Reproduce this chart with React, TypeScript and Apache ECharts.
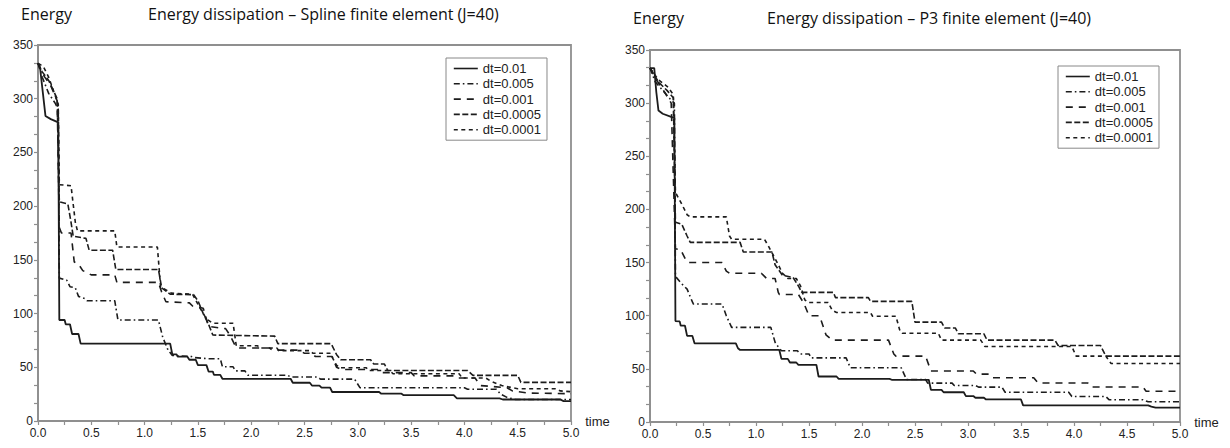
import React, { useEffect, useRef } from "react";
import * as echarts from "echarts";

// ---------- data ----------
const seriesNames = ["dt=0.01", "dt=0.005", "dt=0.001", "dt=0.0005", "dt=0.0001"];
const xTicks = [0, 0.5, 1, 1.5, 2, 2.5, 3, 3.5, 4, 4.5, 5];
const yTicks = [0, 50, 100, 150, 200, 250, 300, 350];
const leftTitle = "Energy dissipation \u2013 Spline finite element (J=40)";
const rightTitle = "Energy dissipation \u2013 P3 finite element (J=40)";
const yName = "Energy";
const xName = "time";

// Spline finite element
const splineDt01 = [[0,333],[0.02,328],[0.07,284],[0.12,281],[0.19,278],[0.2,94],[0.25,94],[0.26,90],[0.3,90],[0.32,81],[0.38,81],[0.4,72],[1.24,72],[1.26,62],[1.3,62],[1.31,60],[1.4,60],[1.42,57],[1.48,57],[1.5,52],[1.58,52],[1.6,46],[1.64,46],[1.65,43],[1.71,43],[1.73,39.3],[2.37,39.3],[2.39,35.6],[2.55,35.6],[2.57,33],[2.64,33],[2.66,31],[2.74,31],[2.76,27],[3.2,27],[3.22,25.4],[3.41,25.4],[3.43,24],[3.9,24],[3.93,21],[4.33,21],[4.36,20],[4.9,20],[4.93,18.5],[5,18.5]];
const splineDt005 = [[0,333],[0.04,320],[0.1,305],[0.16,296],[0.19,290],[0.2,133],[0.27,131],[0.3,125],[0.35,124],[0.38,116],[0.44,114],[0.46,112],[0.72,112],[0.75,94],[1.13,94],[1.17,78],[1.22,66],[1.26,61],[1.44,60],[1.47,59],[1.6,58],[1.71,58],[1.73,50.5],[1.83,50.5],[1.85,46.7],[1.94,46.7],[1.97,42.6],[2.34,42.6],[2.37,41],[2.62,41],[2.65,39],[2.97,39],[3.02,31],[4.0,31],[4.03,29.5],[4.3,29.5],[4.34,25],[4.4,22],[4.48,20],[5,20]];
const splineDt001 = [[0,333],[0.05,322],[0.12,312],[0.18,298],[0.2,180],[0.22,175],[0.31,175],[0.34,148],[0.38,146],[0.42,140],[0.5,136],[0.72,136],[0.74,129],[1.13,129],[1.16,120],[1.2,111],[1.42,110],[1.45,107],[1.55,105],[1.6,88],[1.76,86],[1.8,80],[1.85,70],[1.87,68],[2.17,68],[2.2,66],[2.45,66],[2.5,63],[2.58,63],[2.6,60],[2.76,60],[2.8,50],[2.85,48],[3.2,48],[3.23,45],[3.5,45],[3.53,42],[3.9,42],[3.93,40],[4.1,40],[4.15,33],[4.4,31],[4.45,28],[4.6,26],[5,25.4]];
const splineDt0005 = [[0,333],[0.04,325],[0.1,317],[0.18,300],[0.2,204],[0.28,202],[0.31,185],[0.33,172],[0.45,170],[0.48,159],[0.7,159],[0.73,141],[1.13,141],[1.16,124],[1.24,118],[1.46,117.6],[1.5,112],[1.55,100],[1.6,90],[1.64,80],[2.22,79],[2.25,72],[2.75,72],[2.8,62],[2.84,57],[3.12,57],[3.15,53],[3.25,53],[3.28,47],[4.03,47],[4.08,42.5],[4.5,42.5],[4.53,36],[5,36]];
const splineDt0001 = [[0,333],[0.05,330],[0.1,320],[0.19,295],[0.2,220],[0.31,219],[0.35,185],[0.37,177],[0.72,177],[0.74,162],[1.12,162],[1.15,125],[1.25,119],[1.45,118],[1.52,105],[1.58,95],[1.64,91],[1.83,91],[1.86,70],[2.06,70],[2.08,68],[2.24,68],[2.26,65.5],[2.55,65.5],[2.58,63],[2.74,63],[2.8,52],[2.83,49.5],[3.08,49.5],[3.1,47],[3.3,47],[3.33,44],[3.95,44],[3.98,40],[4.2,40],[4.25,37],[4.35,33],[4.5,30],[4.85,30],[4.9,28],[5,27.3]];

// P3 finite element
const p3Dt01 = [[0,333],[0.04,333],[0.06,310],[0.08,293],[0.12,290],[0.2,287],[0.23,286],[0.24,95],[0.28,94.7],[0.29,90.6],[0.33,90.6],[0.35,81],[0.4,81],[0.42,74],[0.81,74],[0.83,69.4],[0.85,67.8],[1.22,67.8],[1.24,59.4],[1.3,59.4],[1.32,56],[1.38,56],[1.4,53.8],[1.57,53.8],[1.59,42.8],[1.76,42.8],[1.78,40.6],[2.26,40.6],[2.28,39.7],[2.63,39.7],[2.65,30.3],[2.75,30.3],[2.77,28],[2.96,28],[2.98,24.4],[3.05,24.4],[3.07,22.8],[3.15,22.8],[3.17,21.2],[3.5,21.2],[3.52,15.6],[4.7,15.6],[4.73,14.5],[4.77,13.5],[5,13.5]];
const p3Dt005 = [[0,333],[0.05,320],[0.12,312],[0.18,305],[0.23,300],[0.24,137],[0.3,130],[0.35,125],[0.4,113],[0.41,111],[0.68,111],[0.72,100],[0.77,89],[1.14,89],[1.18,75],[1.2,72],[1.24,67],[1.39,67],[1.42,64],[1.5,64],[1.52,60.3],[1.85,60.3],[1.89,51],[2.37,51],[2.42,40],[2.6,40],[2.62,36.6],[2.85,36.6],[2.87,34.4],[3.07,34.4],[3.1,32.8],[3.32,32.8],[3.35,28],[3.95,28],[3.98,24],[4.3,24],[4.33,21],[4.65,21],[4.7,19],[5,19]];
const p3Dt001 = [[0,333],[0.06,322],[0.14,310],[0.2,300],[0.24,163],[0.29,162],[0.34,152],[0.36,150],[0.68,150],[0.72,142],[0.75,140],[1.05,140],[1.1,135],[1.18,135],[1.21,122],[1.22,120],[1.4,120],[1.45,112],[1.5,100],[1.6,100],[1.66,82],[1.72,77],[2.25,77],[2.3,64],[2.32,62],[2.6,62],[2.65,48],[3.05,48],[3.08,45],[3.2,45],[3.23,41.6],[3.62,41.6],[3.66,36.7],[4.13,36.7],[4.16,33],[4.65,33],[4.68,29],[5,29]];
const p3Dt0005 = [[0,333],[0.08,320],[0.16,312],[0.22,305],[0.24,188],[0.3,186],[0.35,175],[0.38,169],[0.85,169],[0.88,160],[1.15,160],[1.18,148],[1.25,138],[1.35,136],[1.4,128],[1.43,122],[1.73,122],[1.75,117],[2.06,117],[2.08,113.5],[2.47,113.5],[2.5,94],[2.75,94],[2.78,88.5],[2.88,88.5],[2.91,83],[3.15,83],[3.18,77],[3.82,77],[3.85,72],[4.25,72],[4.3,62],[5,62]];
const p3Dt0001 = [[0,333],[0.08,322],[0.17,315],[0.22,308],[0.24,216],[0.3,205],[0.35,195],[0.38,193],[0.72,193],[0.75,175],[0.77,172],[1.08,172],[1.12,165],[1.2,150],[1.25,140],[1.3,135],[1.38,135],[1.42,128],[1.46,115],[1.49,112.5],[1.68,112.5],[1.72,105],[1.76,103],[2.08,103],[2.1,99.5],[2.32,99.5],[2.36,85],[2.38,83.5],[2.72,83.5],[2.75,77],[3.12,77],[3.16,71],[3.98,71],[4.02,62],[4.3,62],[4.35,55],[5,55]];

const splineData = [splineDt01, splineDt005, splineDt001, splineDt0005, splineDt0001];
const p3Data = [p3Dt01, p3Dt005, p3Dt001, p3Dt0005, p3Dt0001];

// ---------- styles ----------
const lineColor = "#1c1c1c";
const axisColor = "#8f8f8f";
const dashes: any[] = ["solid", [6, 3, 1.6, 3], [7, 6], [6, 2.5], [4, 3.5]];
const widths = [1.8, 1.6, 1.6, 1.6, 1.6];
const tickFont = "'Liberation Sans', Arial, sans-serif";
const titleFont = "'Open Sans', 'Noto Sans', sans-serif";

function makeX(gridIndex: number) {
  return {
    type: "value",
    gridIndex,
    min: xTicks[0],
    max: xTicks[xTicks.length - 1],
    interval: xTicks[1] - xTicks[0],
    axisLine: { show: true, onZero: false, lineStyle: { color: axisColor, width: 1.8 } },
    axisTick: { show: true, length: 4, lineStyle: { color: axisColor, width: 1.2 } },
    minorTick: { show: true, splitNumber: 2, length: 4, lineStyle: { color: axisColor, width: 1.2 } },
    splitLine: { show: false },
    minorSplitLine: { show: false },
    axisLabel: {
      formatter: (v: number) => v.toFixed(1),
      fontSize: 12,
      color: "#222",
      margin: 6,
      fontFamily: tickFont,
    },
    name: xName,
    nameLocation: "end",
    nameGap: 9,
    nameTextStyle: { fontSize: 13, color: "#222", fontFamily: tickFont, verticalAlign: "middle" },
  };
}

function makeY(gridIndex: number) {
  return {
    type: "value",
    gridIndex,
    min: yTicks[0],
    max: yTicks[yTicks.length - 1],
    interval: yTicks[1] - yTicks[0],
    axisLine: { show: true, onZero: false, lineStyle: { color: axisColor, width: 1.8 } },
    axisTick: { show: true, length: 4, lineStyle: { color: axisColor, width: 1.2 } },
    minorTick: { show: true, splitNumber: 3, length: 4, lineStyle: { color: axisColor, width: 1.2 } },
    splitLine: { show: false },
    minorSplitLine: { show: false },
    axisLabel: { fontSize: 12, color: "#222", margin: 5, fontFamily: tickFont },
  };
}

function makeSeries(data: number[][][], axisIndex: number) {
  return data.map((d, i) => ({
    name: seriesNames[i],
    type: "line",
    xAxisIndex: axisIndex,
    yAxisIndex: axisIndex,
    data: d,
    symbol: "none",
    showSymbol: false,
    lineStyle: { color: lineColor, width: widths[i], type: dashes[i] },
    itemStyle: { color: lineColor },
    emphasis: { disabled: true },
  }));
}

function makeLegend(left: number, top: number) {
  return {
    data: seriesNames,
    orient: "vertical",
    left,
    top,
    itemWidth: 24,
    itemHeight: 13,
    itemGap: 2.3,
    padding: [4, 6, 4, 7],
    backgroundColor: "#fff",
    borderColor: "#888",
    borderWidth: 1,
    borderRadius: 0,
    selectedMode: false,
    itemStyle: { opacity: 0, borderWidth: 0 },
    lineStyle: { width: 1.6 },
    textStyle: { fontSize: 13, color: "#222", fontFamily: tickFont },
  };
}

export default function App() {
  const ref = useRef<HTMLDivElement>(null);
  useEffect(() => {
    if (!ref.current) return;
    const chart = echarts.init(ref.current, undefined, { renderer: "svg" });
    const option = {
      animation: false,
      backgroundColor: "#fff",
      grid: [
        { left: 38, top: 45, width: 533, height: 376, show: true, borderColor: axisColor, borderWidth: 1.8, containLabel: false },
        { left: 650, top: 50, width: 530, height: 372, show: true, borderColor: axisColor, borderWidth: 1.8, containLabel: false },
      ],
      xAxis: [makeX(0), makeX(1)],
      yAxis: [makeY(0), makeY(1)],
      legend: [makeLegend(446, 58), makeLegend(1058, 66)],
      series: [...makeSeries(splineData, 0), ...makeSeries(p3Data, 1)],
      graphic: [
        { type: "text", left: 21, top: 6, style: { text: yName, fontSize: 16, fontFamily: titleFont, fill: "#111" } },
        { type: "text", left: 148, top: 6, style: { text: leftTitle, fontSize: 16, fontFamily: titleFont, fill: "#111" } },
        { type: "text", left: 633, top: 10, style: { text: yName, fontSize: 16, fontFamily: titleFont, fill: "#111" } },
        { type: "text", left: 767, top: 10, style: { text: rightTitle, fontSize: 16, fontFamily: titleFont, fill: "#111" } },
      ],
    };
    chart.setOption(option as any);
    return () => chart.dispose();
  }, []);
  return <div ref={ref} style={{ width: 1230, height: 448, margin: "-8px" }} />;
}
